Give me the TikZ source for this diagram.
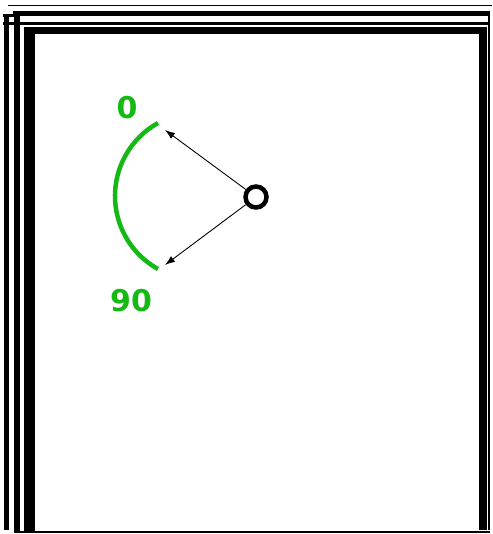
\documentclass[tikz,border=0pt]{standalone}
\usepackage{fontspec}
\setmainfont{DejaVu Sans}
\usetikzlibrary{arrows.meta}
\definecolor{arcgreen}{RGB}{20,185,20}
\tikzset{
  frame/.style={black, line cap=butt},
  pointer/.style={black, line width=0.9pt, -{Latex[length=10pt,width=7pt]}},
  lbl/.style={text=arcgreen, font=\bfseries\fontsize{30}{30}\selectfont, inner sep=0pt},
  hub/.style={circle, draw=black, line width=4.5pt, minimum size=21pt, inner sep=0pt}
}
\begin{document}
\begin{tikzpicture}[x=1pt,y=-1pt]
\useasboundingbox (0,0) rectangle (492,534);
% window frames
\draw[frame, line width=1.5pt] (8,5.5) -- (492,5.5);
\draw[frame, line width=5pt] (13,13.5) -- (490,13.5);
\draw[frame, line width=3pt] (3,15.5) -- (16,15.5);
\draw[frame, line width=2pt] (489,11) -- (489,25);
\draw[frame, line width=3.5pt] (3,23.5) -- (490,23.5);
\draw[frame, line width=7pt] (24,30.5) -- (484,30.5);
\draw[frame, line width=5pt] (6.5,14) -- (6.5,530);
\draw[frame, line width=6pt] (17,11) -- (17,531);
\draw[frame, line width=11pt] (29.5,27) -- (29.5,531);
\draw[frame, line width=8pt] (483,27) -- (483,530);
\draw[frame, line width=2pt] (489,25) -- (489,530);
\draw[frame, line width=2.5pt] (14,532) -- (490,532);
% arc
\draw[arcgreen, line width=4.5pt] (198.5,196) ++(119:83.5) arc[start angle=119, end angle=241, radius=83.5];
% hub and pointers
\node[hub] (hub) at (256,197) {};
\coordinate (tipA) at (165,130);
\coordinate (tipB) at (165,265);
\draw[pointer] (hub) -- (tipA);
\draw[pointer] (hub) -- (tipB);
% labels
\node[lbl] (zero) at (127,108) {0};
\node[lbl] (ninety) at (131,301) {90};
\end{tikzpicture}
\end{document}
